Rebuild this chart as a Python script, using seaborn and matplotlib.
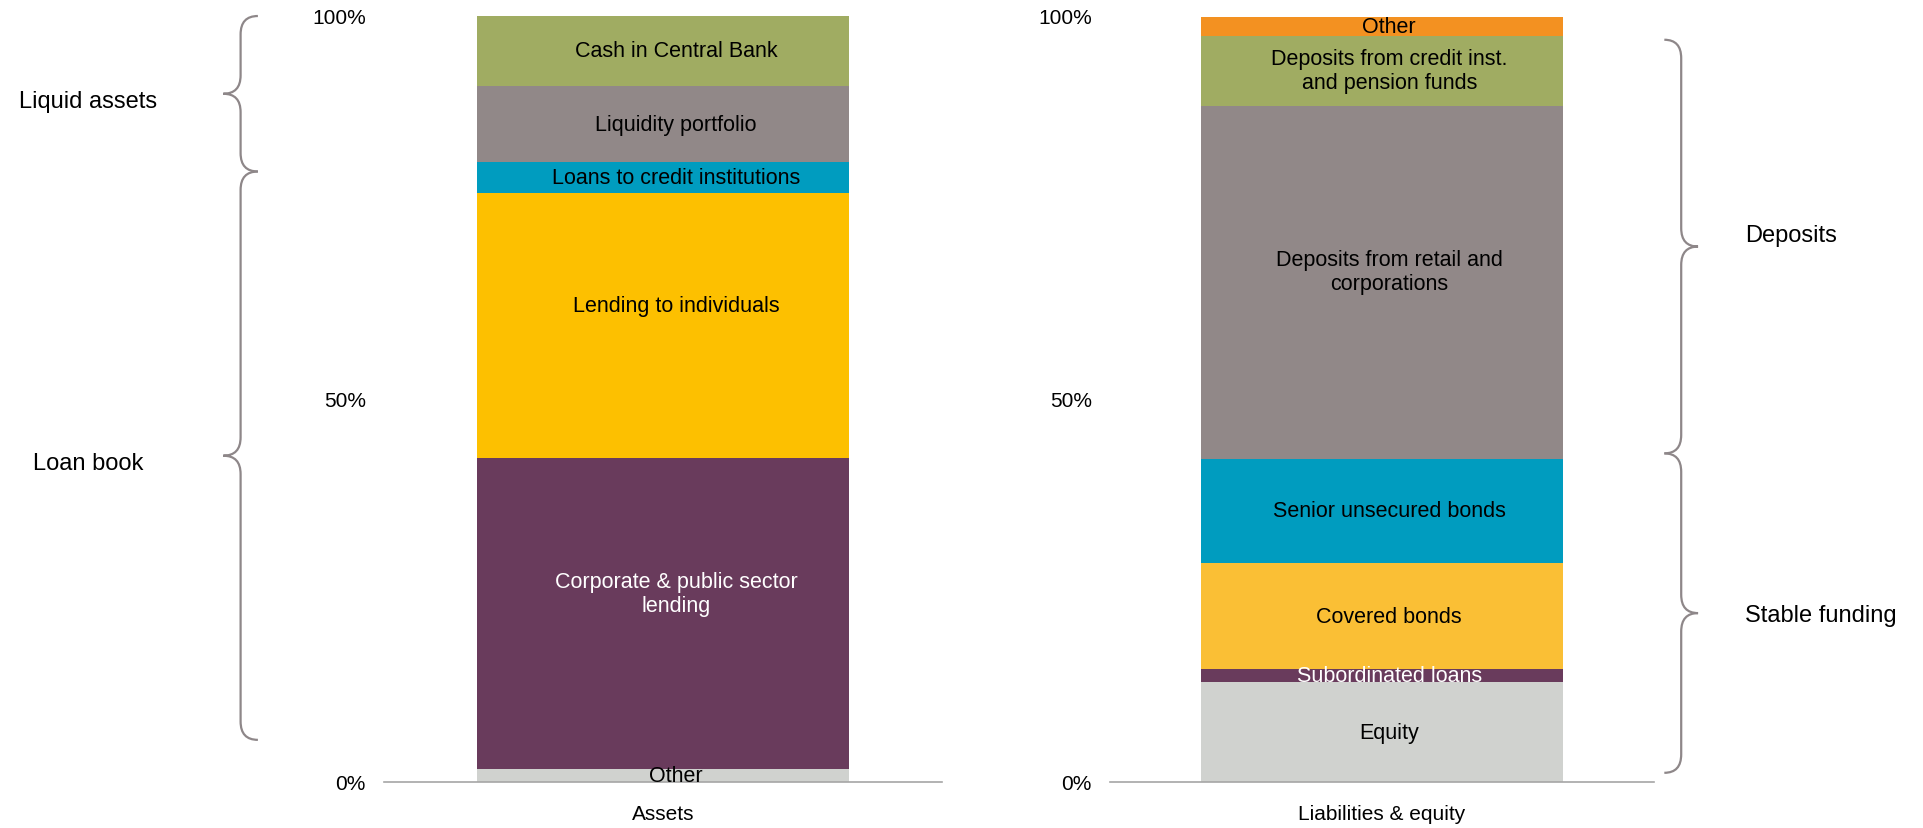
import matplotlib
matplotlib.use("Agg")
import matplotlib.pyplot as plt
import seaborn as sns
from matplotlib.path import Path
from matplotlib.patches import PathPatch
from matplotlib.transforms import blended_transform_factory

# Balance sheet composition, % of total, listed bottom to top
ASSET_ITEMS = ["Other", "Corporate & public sector\nlending", "Lending to individuals",
               "Loans to credit institutions", "Liquidity portfolio", "Cash in Central Bank"]
ASSET_SHARES = [1.7, 40.6, 34.6, 4.0, 10.0, 9.1]
ASSET_COLORS = ["#D0D2CF", "#693B5C", "#FDC000", "#009CBF", "#918888", "#A0AC62"]

LIAB_ITEMS = ["Equity", "Subordinated loans", "Covered bonds", "Senior unsecured bonds",
              "Deposits from retail and\ncorporations",
              "Deposits from credit inst.\nand pension funds", "Other"]
LIAB_SHARES = [13.0, 1.7, 13.9, 13.6, 46.1, 9.1, 2.5]
LIAB_COLORS = ["#D0D2CF", "#693B5C", "#FABF35", "#009CBF", "#918888", "#A0AC62", "#F39121"]

WHITE_TEXT = {"Corporate & public sector\nlending", "Subordinated loans"}

# Brackets: (label, from %, to %)
ASSET_GROUPS = [("Liquid assets", 79.7, 100.0), ("Loan book", 5.5, 79.7)]
LIAB_GROUPS = [("Deposits", 42.9, 96.9), ("Stable funding", 1.2, 42.9)]

Y_TICKS = [0, 50, 100]
Y_TICK_LABELS = ["0%", "50%", "100%"]

# small vertical nudges of labels (in % points)
LABEL_NUDGE = {"Lending to individuals": 2.6, "Corporate & public sector\nlending": 2.6,
               "Deposits from retail and\ncorporations": 1.4,
               "Liquid assets": -1.0, "Loan book": -1.0, "Deposits": 1.5, "Stable funding": -0.3}

BRACE_COLOR = "#8E8789"
AXIS_COLOR = "#A6A6A6"

sns.set_theme(style="white")
plt.rcParams["font.family"] = ["Liberation Sans", "DejaVu Sans"]
plt.rcParams["text.color"] = "black"


def draw_stack(ax, side, items, shares, colors, label_dx):
    bottom = 0.0
    for item, share, color in zip(items, shares, colors):
        sns.barplot(x=[side], y=[share], bottom=bottom, color=color, width=1.0,
                    saturation=1, linewidth=0, errorbar=None, ax=ax)
        ax.text(label_dx, bottom + share / 2 + LABEL_NUDGE.get(item, 0), item,
                ha="center", va="center", fontsize=15.5,
                color="white" if item in WHITE_TEXT else "black")
        bottom += share


def draw_brace(ax, x_spine, y0, y1, d, r, direction):
    trans = blended_transform_factory(ax.transAxes, ax.transData)
    ym = (y0 + y1) / 2
    xe = x_spine - direction * d
    xt = x_spine + direction * d
    verts = [(xe, y1), (x_spine, y1), (x_spine, y1 - r),
             (x_spine, ym + r), (x_spine, ym), (xt, ym),
             (x_spine, ym), (x_spine, ym - r),
             (x_spine, y0 + r), (x_spine, y0), (xe, y0)]
    codes = [Path.MOVETO, Path.CURVE3, Path.CURVE3, Path.LINETO, Path.CURVE3, Path.CURVE3,
             Path.CURVE3, Path.CURVE3, Path.LINETO, Path.CURVE3, Path.CURVE3]
    ax.add_patch(PathPatch(Path(verts, codes), transform=trans, fill=False,
                           edgecolor=BRACE_COLOR, lw=1.6, clip_on=False))
    return trans, ym


def style_axis(ax):
    ax.set_xlim(-0.75, 0.75)
    ax.set_ylim(0, 100)
    ax.set_yticks(Y_TICKS)
    ax.set_yticklabels(Y_TICK_LABELS)
    ax.set_xlabel("")
    ax.set_ylabel("")
    for s in ["top", "left", "right"]:
        ax.spines[s].set_visible(False)
    ax.spines["bottom"].set_color(AXIS_COLOR)
    ax.spines["bottom"].set_linewidth(1.2)
    ax.tick_params(axis="both", length=0, labelsize=15, labelcolor="black")
    ax.tick_params(axis="y", pad=13)
    ax.tick_params(axis="x", pad=16)
    ax.grid(False)


fig = plt.figure(figsize=(19.24, 8.29), dpi=100)
ax_a = fig.add_axes([384 / 1924, 46 / 829, 558 / 1924, 766 / 829])
ax_l = fig.add_axes([1110 / 1924, 46 / 829, 544 / 1924, 766 / 829])

draw_stack(ax_a, "Assets", ASSET_ITEMS, ASSET_SHARES, ASSET_COLORS, 0.035)
draw_stack(ax_l, "Liabilities & equity", LIAB_ITEMS, LIAB_SHARES, LIAB_COLORS, 0.02)
style_axis(ax_a)
style_axis(ax_l)

for label, y0, y1 in ASSET_GROUPS:
    trans, ym = draw_brace(ax_a, -0.257, y0, y1, 0.031, 2.4, -1)
    ax_a.text(-0.53, ym + LABEL_NUDGE.get(label, 0), label, transform=trans,
              ha="center", va="center", fontsize=17)

for label, y0, y1 in LIAB_GROUPS:
    trans, ym = draw_brace(ax_l, 1.05, y0, y1, 0.031, 2.4, 1)
    ax_l.text(1.167, ym + LABEL_NUDGE.get(label, 0), label, transform=trans,
              ha="left", va="center", fontsize=17)

fig.savefig("out.png", dpi=100, facecolor="white")
plt.close(fig)
